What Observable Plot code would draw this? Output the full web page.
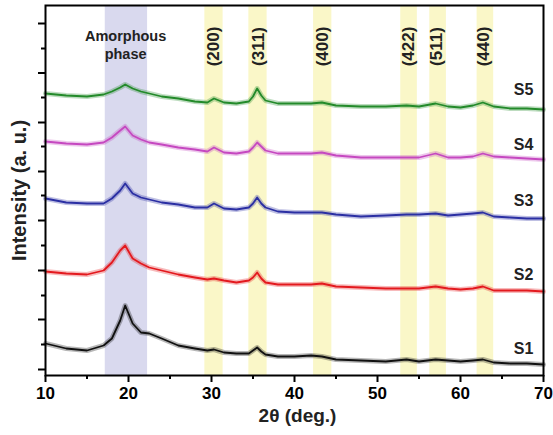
<!DOCTYPE html>
<html><head><meta charset="utf-8">
<script src="https://cdn.jsdelivr.net/npm/d3@7"></script>
<script src="https://cdn.jsdelivr.net/npm/@observablehq/plot@0.6"></script>
<style>body{margin:0;background:#fff}</style>
</head><body><div id="chart"></div>
<script>
// 2θ (deg.) sample positions
const twoTheta = [10, 12.5, 15, 17, 18, 19, 19.6, 20.5, 21.5, 22.5, 24, 26, 28, 29.5, 30.3, 31.5, 33, 34.5, 35, 35.5, 36, 36.5, 38, 40, 42, 43.3, 45, 48, 51, 53.5, 55, 57, 58.5, 60, 61.5, 62.7, 64, 66, 68, 70];
// Intensities (a. u., stacked offsets included)
const S1 = [26, 21, 19, 24, 31, 49, 64, 46, 37, 36, 31, 24, 21, 19, 20, 17, 16, 16, 19, 22, 18, 15, 13, 13, 14, 13, 10, 9, 8, 10, 8, 10, 9, 8, 9, 10, 7, 6, 6, 5];
const S2 = [98, 96, 95, 99, 107, 119, 124, 111, 106, 102, 99, 95, 92, 90, 91, 89, 87, 89, 92, 97, 91, 87, 85, 85, 85, 86, 83, 82, 81, 81, 81, 83, 81, 80, 81, 83, 79, 79, 79, 78];
const S3 = [171, 167, 166, 166, 171, 179, 186, 176, 172, 170, 167, 165, 162, 162, 166, 161, 160, 162, 166, 172, 166, 162, 158, 157, 157, 157, 155, 153, 154, 155, 155, 156, 154, 155, 156, 157, 153, 152, 151, 151];
const S4 = [228, 226, 225, 227, 232, 239, 243, 234, 230, 227, 225, 222, 220, 218, 222, 217, 216, 218, 222, 227, 223, 219, 216, 216, 216, 217, 214, 212, 212, 212, 212, 216, 212, 212, 213, 216, 213, 212, 211, 210];
const S5 = [276, 274, 273, 275, 278, 282, 285, 281, 278, 276, 273, 271, 268, 267, 271, 267, 266, 268, 273, 281, 274, 269, 266, 266, 266, 267, 264, 263, 263, 264, 263, 266, 263, 262, 264, 267, 263, 261, 261, 260];

const seriesNames = ["S1", "S2", "S3", "S4", "S5"];
const seriesValues = [S1, S2, S3, S4, S5];
const seriesColors = ["#111111", "#e3191e", "#2b2fa3", "#c548c0", "#238a2a"];
const seriesLabelY = [21, 95, 169, 225, 280];
const seriesLabelX = 67.6;

// Highlighted regions
const bandStart = [17.2, 29.2, 34.5, 42.3, 52.8, 56.3, 62.0];
const bandEnd   = [22.3, 31.4, 36.7, 44.5, 54.8, 58.3, 64.0];
const bandColors = ["#d9d9ee", "#faf7c8", "#faf7c8", "#faf7c8", "#faf7c8", "#faf7c8", "#faf7c8"];

// Peak labels
const hklLabels = ["(200)", "(311)", "(400)", "(422)", "(511)", "(440)"];
const hklX = [30.25, 35.65, 43.4, 53.75, 57.1, 62.8];
const hklY = 323;
const amorphousLabel = "Amorphous\nphase";
const amorphousX = 19.65;
const amorphousY = 325;

// Axis ticks
const xMajor = [10, 20, 30, 40, 50, 60, 70];
const xMinor = [15, 25, 35, 45, 55, 65];
const yMajor = [0, 50, 99, 149, 198, 247, 296.5, 346];
const yMinor = [25, 74, 124, 174, 223, 272, 321];

const rows = [];
seriesNames.forEach((s, i) => {
  twoTheta.forEach((x, j) => rows.push({series: s, x, y: seriesValues[i][j], color: seriesColors[i]}));
});
const bands = bandStart.map((a, i) => ({x1: a, x2: bandEnd[i], fill: bandColors[i]}));
const seriesLabels = seriesNames.map((s, i) => ({text: s, x: seriesLabelX, y: seriesLabelY[i]}));
const hkl = hklLabels.map((t, i) => ({text: t, x: hklX[i], y: hklY}));

const font = "'Liberation Sans', Arial, Helvetica, sans-serif";

const chart = Plot.plot({
  width: 553,
  height: 435,
  marginLeft: 45,
  marginRight: 10,
  marginTop: 5,
  marginBottom: 60,
  style: {fontFamily: font, background: "white", color: "black"},
  color: {type: "identity"},
  x: {domain: [10, 70]},
  y: {domain: [-6, 364]},
  marks: [
    Plot.rect(bands, {x1: "x1", x2: "x2", fill: "fill"}),
    Plot.line(rows, {x: "x", y: "y", z: "series", stroke: "color", strokeWidth: 5, strokeOpacity: 0.3}),
    Plot.line(rows, {x: "x", y: "y", z: "series", stroke: "color", strokeWidth: 1.8}),
    Plot.text([amorphousLabel], {x: amorphousX, y: amorphousY, text: d => d, fontSize: 14.5, fontWeight: "bold", lineHeight: 1.25, fill: "#222"}),
    Plot.text(hkl, {x: "x", y: "y", text: "text", rotate: -90, fontSize: 17, fontWeight: "bold", fill: "#222"}),
    Plot.text(seriesLabels, {x: "x", y: "y", text: "text", fontSize: 16, fontWeight: "bold", fill: "#222"}),
    Plot.axisX({ticks: xMajor, tickSize: 7, strokeWidth: 2, tickPadding: 4, fontSize: 17, fontWeight: "bold", label: null}),
    Plot.axisX({ticks: xMinor, tickSize: 4, strokeWidth: 2, tickFormat: () => "", label: null}),
    Plot.axisY({ticks: yMajor, tickSize: 7, strokeWidth: 2, tickFormat: () => "", label: null}),
    Plot.axisY({ticks: yMinor, tickSize: 4, strokeWidth: 2, tickFormat: () => "", label: null}),
    Plot.text(["Intensity (a. u.)"], {frameAnchor: "left", textAnchor: "middle", dx: -26, rotate: -90, text: d => d, fontSize: 20, fontWeight: "bold", fill: "#222"}),
    Plot.text(["2θ (deg.)"], {frameAnchor: "bottom", dy: 46, dx: 3, text: d => d, fontSize: 19, fontWeight: "bold", fill: "#222"}),
    Plot.frame({stroke: "black", strokeWidth: 2})
  ]
});
document.getElementById("chart").appendChild(chart);
</script>
</body></html>
